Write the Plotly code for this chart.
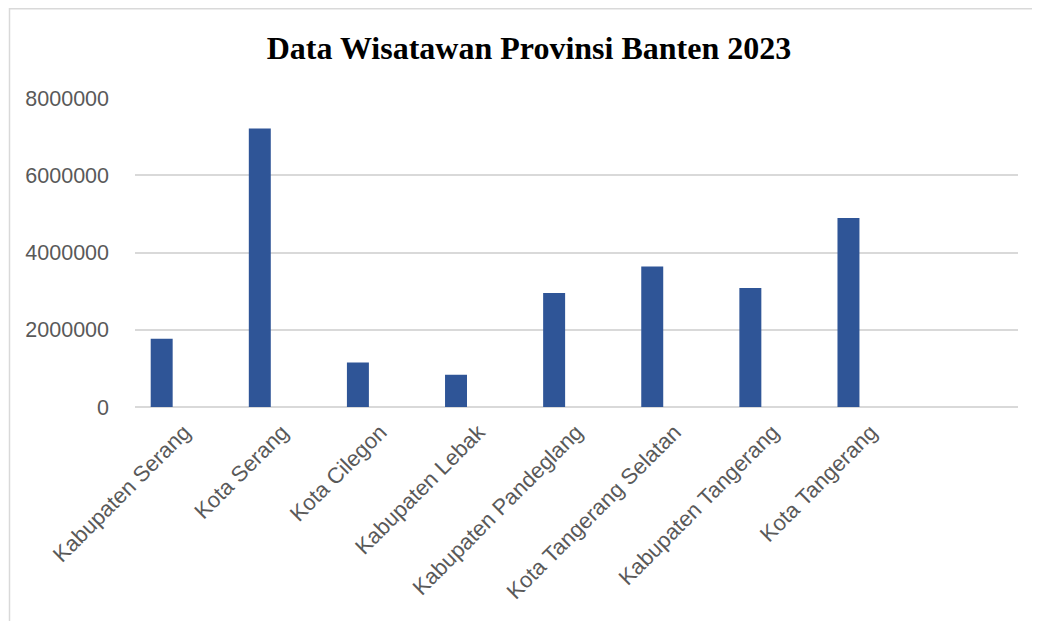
import plotly.graph_objects as go

categories = ["Kabupaten Serang", "Kota Serang", "Kota Cilegon", "Kabupaten Lebak",
              "Kabupaten Pandeglang", "Kota Tangerang Selatan", "Kabupaten Tangerang",
              "Kota Tangerang"]
wisatawan = [1765000, 7210000, 1150000, 835000, 2950000, 3640000, 3080000, 4890000]
y_ticks = [0, 2000000, 4000000, 6000000, 8000000]
title = "Data Wisatawan Provinsi Banten 2023"

# page offset (default body margin of the html page)
OFF = 8
W, H = 1040, 621
L, R, T = 135 - OFF, W - (1018 - OFF), 98 - OFF
B = H - (407.3 - OFF)
pw, ph = W - L - R, H - T - B

fig = go.Figure()
fig.add_trace(go.Bar(
    x=categories, y=wisatawan,
    marker=dict(color="#2F5597", line=dict(width=0)),
    width=0.224, offset=-0.34,
    hoverinfo="x+y",
))

def px_x(p):
    return (p - OFF - L) / pw

def px_y(p):
    return (H - B - (p - OFF)) / ph

fig.update_layout(
    width=W, height=H,
    margin=dict(l=L, r=R, t=T, b=B, autoexpand=False),
    paper_bgcolor="white", plot_bgcolor="white",
    showlegend=False,
    title=dict(text=f"<b>{title}</b>", x=(529 - OFF) / W, xanchor="center",
               y=1 - (48 - OFF) / H, yanchor="middle",
               font=dict(family="Liberation Serif", size=32, color="black")),
    xaxis=dict(
        type="category", range=[-0.5, 8.5], tickangle=-45,
        showgrid=False, showline=False, ticks="", ticklabelstandoff=7,
        tickfont=dict(family="Liberation Sans", size=22, color="#595959"),
    ),
    yaxis=dict(
        range=[0, 8000000], tickvals=y_ticks, ticktext=[str(v) for v in y_ticks],
        showgrid=True, gridcolor="#d9d9d9", gridwidth=1.5,
        zeroline=True, zerolinecolor="#d9d9d9", zerolinewidth=1.5,
        showline=False, ticks="", ticklabelstandoff=25,
        tickfont=dict(family="Liberation Sans", size=21.5, color="#595959"),
    ),
    shapes=[dict(type="rect", xref="paper", yref="paper",
                 x0=px_x(9.5), x1=px_x(1060), y0=px_y(650), y1=px_y(8.75),
                 line=dict(color="#d9d9d9", width=1.5), fillcolor="rgba(0,0,0,0)",
                 layer="below")],
)

fig.write_html("out.html")
